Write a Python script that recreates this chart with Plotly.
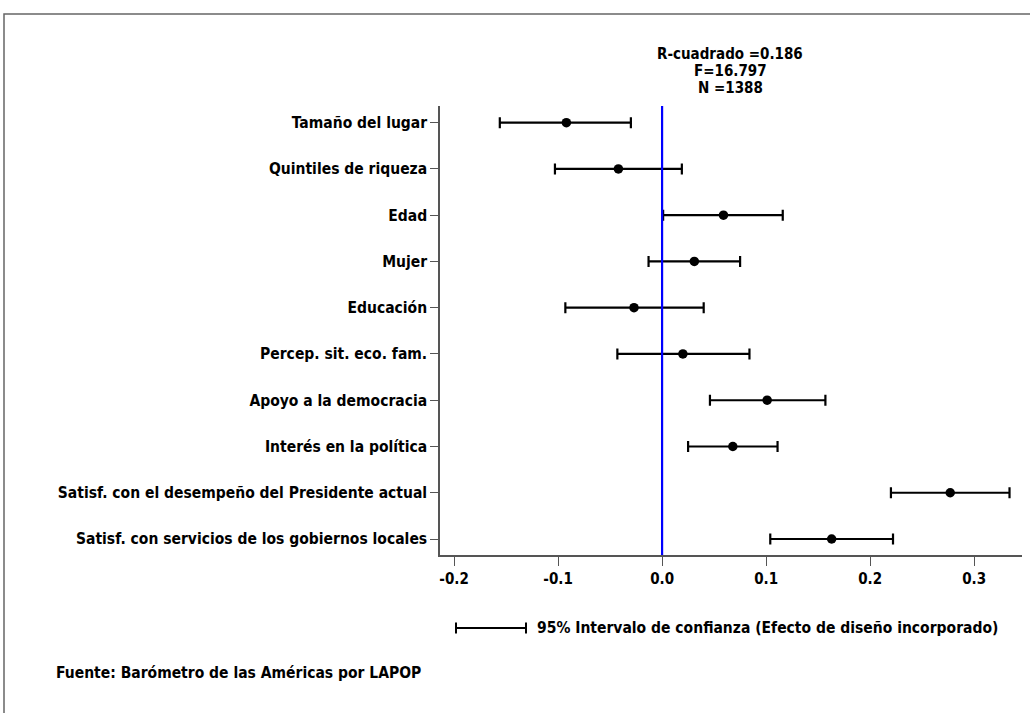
import plotly.graph_objects as go

# Regression coefficients with 95% confidence bounds (design effect incorporated)
variables = [
    "Tamaño del lugar",
    "Quintiles de riqueza",
    "Edad",
    "Mujer",
    "Educación",
    "Percep. sit. eco. fam.",
    "Apoyo a la democracia",
    "Interés en la política",
    "Satisf. con el desempeño del Presidente actual",
    "Satisf. con servicios de los gobiernos locales",
]
coef = [-0.092, -0.042, 0.059, 0.031, -0.027, 0.020, 0.101, 0.068, 0.277, 0.163]
lower = [-0.156, -0.103, 0.001, -0.013, -0.093, -0.043, 0.046, 0.025, 0.220, 0.104]
upper = [-0.030, 0.019, 0.116, 0.075, 0.040, 0.084, 0.157, 0.111, 0.334, 0.222]

x_ticks = [-0.2, -0.1, 0.0, 0.1, 0.2, 0.3]
x_ticklabels = ["-0.2", "-0.1", "0.0", "0.1", "0.2", "0.3"]

stats_lines = ["R-cuadrado =0.186", "F=16.797", "N =1388"]
legend_text = "95% Intervalo de confianza (Efecto de diseño incorporado)"
source_text = "Fuente: Barómetro de las Américas por LAPOP"

FONT = "Liberation Sans Narrow, Arial Narrow, DejaVu Sans Condensed, sans-serif"

W, H = 1030, 713
ML, MR, MT, MB = 440, 8, 106, 158
PW, PH = W - ML - MR, H - MT - MB

def px(x):
    return (x - ML) / PW

def py(y):
    return (H - MB - y) / PH

n = len(variables)
ypos = [n - 1 - i for i in range(n)]

fig = go.Figure()
fig.add_trace(go.Scatter(
    x=coef,
    y=ypos,
    mode="markers",
    marker=dict(color="black", size=9.5),
    error_x=dict(
        type="data",
        symmetric=False,
        array=[u - c for u, c in zip(upper, coef)],
        arrayminus=[c - l for c, l in zip(coef, lower)],
        color="black",
        thickness=2.2,
        width=5.5,
    ),
    showlegend=False,
    hoverinfo="skip",
))

shapes = []
# reference line at zero
shapes.append(dict(type="line", xref="x", yref="paper", x0=0, x1=0, y0=0, y1=1,
                   line=dict(color="#0000ff", width=2.2), layer="above"))
# outer frame
shapes.append(dict(type="rect", xref="paper", yref="paper",
                   x0=px(4), x1=px(1045), y0=py(730), y1=py(14),
                   line=dict(color="#666666", width=1.5)))
# legend key: confidence interval symbol
ly = py(628)
shapes.append(dict(type="line", xref="paper", yref="paper", x0=px(456), x1=px(526),
                   y0=ly, y1=ly, line=dict(color="black", width=2.2)))
for cx in (456, 526):
    shapes.append(dict(type="line", xref="paper", yref="paper", x0=px(cx), x1=px(cx),
                       y0=py(622.5), y1=py(633.5), line=dict(color="black", width=2)))

annotations = []
for k, line in enumerate(stats_lines):
    annotations.append(dict(text="<b>%s</b>" % line, xref="paper", yref="paper",
                            x=px(730), y=py(54 + 17 * k), showarrow=False,
                            xanchor="center", yanchor="middle",
                            font=dict(family=FONT, size=15, color="black")))
annotations.append(dict(text="<b>%s</b>" % legend_text, xref="paper", yref="paper",
                        x=px(535), y=ly, showarrow=False, xanchor="left", yanchor="middle",
                        font=dict(family=FONT, size=15.5, color="black")))
annotations.append(dict(text="<b>%s</b>" % source_text, xref="paper", yref="paper",
                        x=px(54), y=py(673), showarrow=False, xanchor="left", yanchor="middle",
                        font=dict(family=FONT, size=15.5, color="black")))

fig.update_layout(
    width=W, height=H,
    margin=dict(l=ML, r=MR, t=MT, b=MB, pad=0),
    paper_bgcolor="white",
    plot_bgcolor="white",
    font=dict(family=FONT, color="black"),
    shapes=shapes,
    annotations=annotations,
    xaxis=dict(
        range=[-0.2135, 0.346],
        tickvals=x_ticks,
        ticktext=["<b>%s</b>" % t for t in x_ticklabels],
        tickfont=dict(family=FONT, size=15, color="black"),
        showgrid=False, zeroline=False,
        showline=True, linecolor="#555555", linewidth=1.5,
        ticks="outside", ticklen=9, tickcolor="#555555", tickwidth=1.2,
        fixedrange=True,
    ),
    yaxis=dict(
        range=[-0.346, n - 1 + 0.361],
        tickvals=ypos,
        ticktext=["<b>%s</b>" % v for v in variables],
        tickfont=dict(family=FONT, size=15.5, color="black"),
        showgrid=False, zeroline=False,
        showline=True, linecolor="#555555", linewidth=1.5,
        ticks="outside", ticklen=8, tickcolor="#555555", tickwidth=1.2,
        ticklabelstandoff=0,
        fixedrange=True,
    ),
)

fig.write_html("out.html")
